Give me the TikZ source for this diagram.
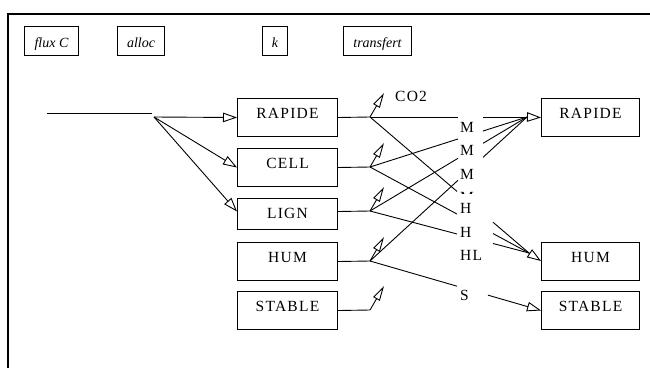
\documentclass[tikz,border=0pt]{standalone}
\usepackage{fontspec}
\setmainfont{Liberation Serif}
\newfontfamily\boxfont[LetterSpace=8]{Liberation Serif}
\usetikzlibrary{arrows.meta,calc}
\begin{document}
\begin{tikzpicture}[x=1pt,y=-1pt,
  box/.style={draw,line width=1pt,inner sep=0pt,minimum width=100pt,
    text height=20pt,text depth=18pt,anchor=north west,
    font=\boxfont\fontsize{15.5}{18}\selectfont},
  topbox/.style={draw,line width=1pt,inner sep=0pt,text height=20.5pt,
    text depth=8.5pt,anchor=north west,font=\itshape\fontsize{14}{16}\selectfont},
  lab/.style={anchor=base west,inner sep=0pt,font=\boxfont\fontsize{15.5}{18}\selectfont},
  flow/.style={line width=0.9pt},
  bigarrow/.style={-{Triangle[length=14pt,width=9.5pt,fill=white]}},
  co2arrow/.style={-{Triangle[length=15pt,width=7.5pt,fill=white]}}]
\useasboundingbox (0,0) rectangle (650,367);
% frame
\draw[line width=2pt] (7.7,372) -- (7.7,14.3) -- (656,14.3);
% top boxes
\node[topbox,minimum width=54pt] (tflux) at (24,26) {flux C};
\node[topbox,minimum width=47pt] (talloc) at (117,26) {alloc};
\node[topbox,minimum width=25pt] (tk) at (262,26) {k};
\node[topbox,minimum width=68pt] (ttr) at (343,26) {transfert};
% left boxes
\node[box] (RAPIDE) at (237,98) {RAPIDE};
\node[box] (CELL) at (237,148) {CELL};
\node[box,text depth=11pt] (LIGN) at (237,198) {LIGN};
\node[box] (HUM) at (237,242) {HUM};
\node[box] (STABLE) at (237,291) {STABLE};
% right boxes
\node[box,minimum width=98pt] (RAPIDE2) at (541,98) {RAPIDE};
\node[box,minimum width=98pt] (HUM2) at (541,242) {HUM};
\node[box,minimum width=98pt] (STABLE2) at (541,291) {STABLE};
% coordinates
\coordinate (in0) at (47,113);
\coordinate (in1) at (152,113);
\coordinate (br) at (154,117);
\coordinate (jR) at (370,117);
\coordinate (jC) at (370,167);
\coordinate (jL) at (370,211);
\coordinate (jH) at (370,261);
\coordinate (jS) at (370,310);
\coordinate (tR) at (384,93);
\coordinate (tC) at (384,143);
\coordinate (tL) at (384,187);
\coordinate (tH) at (384,237);
\coordinate (tS) at (384,286);
\coordinate (cR) at (527,117);
\coordinate (cH) at (529,253);
% input and allocation
\draw[flow] (in0) -- (in1);
\draw[flow,bigarrow] (br) -- (RAPIDE.west);
\draw[flow,bigarrow] (br) -- (CELL.west);
\draw[flow,bigarrow] (br) -- ([yshift=2.5pt]LIGN.west);
% box outputs to junctions
\draw[flow] (RAPIDE.east) -- (jR);
\draw[flow] (CELL.east) -- (jC);
\draw[flow] ([yshift=2.5pt]LIGN.east) -- (jL);
\draw[flow] (HUM.east) -- (jH);
\draw[flow] (STABLE.east) -- (jS);
% CO2 arrows
\draw[flow,co2arrow] (jR) -- (tR);
\draw[flow,co2arrow] (jC) -- (tC);
\draw[flow,co2arrow] (jL) -- (tL);
\draw[flow,co2arrow] (jH) -- (tH);
\draw[flow,co2arrow] (jS) -- (tS);
% transfers to RAPIDE
\draw[flow] (jR) -- ($(jR)!0.5605!(cR)$) ($(jR)!0.7197!(cR)$) -- (cR);
\draw[flow] (jC) -- ($(jC)!0.5605!(cR)$) ($(jC)!0.7197!(cR)$) -- (cR);
\draw[flow] (jL) -- ($(jL)!0.5605!(cR)$) ($(jL)!0.7197!(cR)$) -- (cR);
\draw[flow] (jH) -- ($(jH)!0.5605!(cR)$) ($(jH)!0.7197!(cR)$) -- (cR);
% transfers to HUM
\draw[flow] (jR) -- ($(jR)!0.5472!(cH)$) ($(jR)!0.7736!(cH)$) -- (cH);
\draw[flow] (jC) -- ($(jC)!0.5472!(cH)$) ($(jC)!0.7736!(cH)$) -- (cH);
\draw[flow] (jL) -- ($(jL)!0.5472!(cH)$) ($(jL)!0.7736!(cH)$) -- (cH);
% transfer to STABLE
\draw[flow] (jH) -- ($(jH)!0.5088!(STABLE2.west)$);
\draw[flow,bigarrow] ($(jH)!0.6901!(STABLE2.west)$) -- (STABLE2.west);
% arrowheads
\draw[flow,bigarrow] (cR) -- (RAPIDE2.west);
\draw[flow,bigarrow] (cH) -- ([yshift=0.5pt]HUM2.west);
% labels
\node[lab] (co2) at (395,101) {CO2};
\node[lab] (m1) at (460,132) {M};
\node[lab] (m2) at (460,155) {M};
\node[lab] (m3) at (460,179) {M};
\begin{scope}
\clip (455,189) rectangle (482,193.8);
\node[lab] (m4) at (460,202) {M};
\end{scope}
\node[lab] (h1) at (460,213) {H};
\node[lab] (h2) at (460,237) {H};
\node[lab] (hl) at (460,260) {HL};
\node[lab] (s) at (460,300) {S};
\end{tikzpicture}
\end{document}
